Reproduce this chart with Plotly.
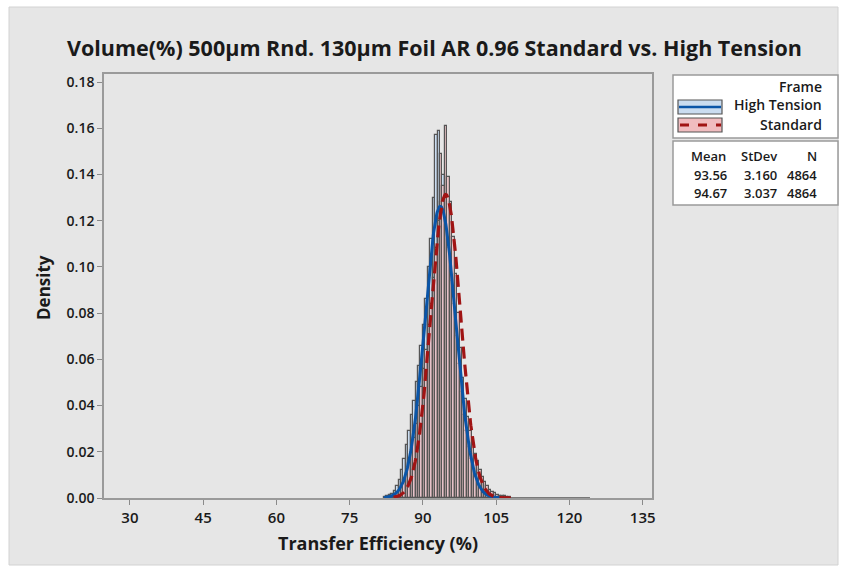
import numpy as np
import plotly.graph_objects as go

# ---------------- data ----------------
TITLE = "Volume(%) 500μm Rnd. 130μm Foil AR 0.96 Standard vs. High Tension"
GROUPS = ["High Tension", "Standard"]
MEANS = [93.56, 94.67]
STDEVS = [3.160, 3.037]
NS = [4864, 4864]

BIN_START = 82.0
BIN_WIDTH = 0.5
DATA_MAX = 124.2          # largest observation (lone outlier)
FIT_RANGE_HT = [82.0, 106.0]
FIT_RANGE_ST = [84.0, 108.0]

dens_high_tension = [
    0.0004, 0.0008, 0.0012, 0.0018, 0.003, 0.005, 0.008, 0.012,
    0.017, 0.023, 0.029, 0.036, 0.042, 0.050, 0.057, 0.066,
    0.075, 0.086, 0.100, 0.112, 0.130, 0.157, 0.159, 0.128,
    0.140, 0.118, 0.108, 0.094, 0.084, 0.070, 0.058, 0.046,
    0.036, 0.029, 0.022, 0.017, 0.012, 0.009, 0.007, 0.005,
    0.0035, 0.0025, 0.0018, 0.0012, 0.0008, 0.0006, 0.0004, 0.0004,
]
dens_standard = [
    0.0, 0.0004, 0.0004, 0.0008, 0.0012, 0.002, 0.003, 0.005,
    0.008, 0.011, 0.015, 0.020, 0.026, 0.032, 0.040, 0.048,
    0.056, 0.064, 0.075, 0.084, 0.095, 0.108, 0.120, 0.149,
    0.135, 0.161, 0.139, 0.128, 0.113, 0.097, 0.080, 0.065,
    0.052, 0.043, 0.035, 0.029, 0.024, 0.019, 0.016, 0.012,
    0.009, 0.007, 0.005, 0.0035, 0.0025, 0.002, 0.0015, 0.001,
    0.001, 0.0008, 0.0006, 0.0004,
]

X_TICKS = [30, 45, 60, 75, 90, 105, 120, 135]
Y_TICKS = [0.00, 0.02, 0.04, 0.06, 0.08, 0.10, 0.12, 0.14, 0.16, 0.18]

# ---------------- styling ----------------
W, H = 847, 573
PL, PR, PT, PB = 104, 652, 74, 498   # plot area in pixels
FONT = "Open Sans"
TXT = "#1a1a1a"
BLUE_FILL = "#cadcf0"
PINK_FILL = "rgba(238,186,190,0.75)"
OUTLINE = "#555555"
BLUE_LINE = "#0a55a8"
RED_LINE = "#a01414"
FRAME = "#9a9a9a"


def px(x):
    return (x - PL) / (PR - PL)


def py(y):
    return (PB - y) / (PB - PT)


def centers(n):
    return [BIN_START + BIN_WIDTH * (i + 0.5) for i in range(n)]


def normal_pdf(x, m, s):
    return np.exp(-0.5 * ((x - m) / s) ** 2) / (s * np.sqrt(2 * np.pi))


fig = go.Figure()

# empty-bin baseline (Minitab draws zero-height bins as a line)
fig.add_trace(go.Scatter(x=[BIN_START, DATA_MAX], y=[0, 0], mode="lines",
                         line=dict(color=OUTLINE, width=1.5),
                         showlegend=False, hoverinfo="skip"))

fig.add_trace(go.Bar(x=centers(len(dens_high_tension)), y=dens_high_tension,
                     width=BIN_WIDTH, name=GROUPS[0],
                     marker=dict(color=BLUE_FILL, line=dict(color=OUTLINE, width=1.2)),
                     showlegend=False))
fig.add_trace(go.Bar(x=centers(len(dens_standard)), y=dens_standard,
                     width=BIN_WIDTH, name=GROUPS[1],
                     marker=dict(color=PINK_FILL, line=dict(color=OUTLINE, width=1.2)),
                     showlegend=False))

xs_ht = np.linspace(FIT_RANGE_HT[0], FIT_RANGE_HT[1], 300)
xs_st = np.linspace(FIT_RANGE_ST[0], FIT_RANGE_ST[1], 300)
fig.add_trace(go.Scatter(x=xs_ht, y=normal_pdf(xs_ht, MEANS[0], STDEVS[0]), mode="lines",
                         line=dict(color=BLUE_LINE, width=3), showlegend=False))
fig.add_trace(go.Scatter(x=xs_st, y=normal_pdf(xs_st, MEANS[1], STDEVS[1]), mode="lines",
                         line=dict(color=RED_LINE, width=3.2, dash="12px,6px"),
                         showlegend=False))

shapes = []
annotations = []

# outer grey panel
shapes.append(dict(type="rect", xref="paper", yref="paper", layer="below",
                   x0=px(9), x1=px(838), y0=py(565), y1=py(7),
                   fillcolor="#e6e6e6", line=dict(color="#d2d2d2", width=1)))

# legend box 1
shapes.append(dict(type="rect", xref="paper", yref="paper",
                   x0=px(673), x1=px(838), y0=py(138), y1=py(75),
                   fillcolor="white", line=dict(color=FRAME, width=1.5)))
# legend box 2
shapes.append(dict(type="rect", xref="paper", yref="paper",
                   x0=px(673), x1=px(838), y0=py(205), y1=py(141),
                   fillcolor="white", line=dict(color=FRAME, width=1.5)))
# swatches
shapes.append(dict(type="rect", xref="paper", yref="paper",
                   x0=px(678), x1=px(722), y0=py(114), y1=py(100),
                   fillcolor=BLUE_FILL, line=dict(color=OUTLINE, width=1.2)))
shapes.append(dict(type="line", xref="paper", yref="paper",
                   x0=px(679), x1=px(721), y0=py(107), y1=py(107),
                   line=dict(color=BLUE_LINE, width=2.5)))
shapes.append(dict(type="rect", xref="paper", yref="paper",
                   x0=px(678), x1=px(722), y0=py(132), y1=py(118),
                   fillcolor="#f0bcbf", line=dict(color=OUTLINE, width=1.2)))
shapes.append(dict(type="line", xref="paper", yref="paper",
                   x0=px(680), x1=px(721), y0=py(125), y1=py(125),
                   line=dict(color=RED_LINE, width=3, dash="dash")))


def ann(text, x, y, xanchor="right", size=14, weight=600):
    annotations.append(dict(text=text, x=px(x), y=py(y), xref="paper", yref="paper",
                            xanchor=xanchor, yanchor="middle", showarrow=False,
                            font=dict(family=FONT, size=size, color=TXT, weight=weight)))


ann("Frame", 824, 86)
ann(GROUPS[0], 824, 105)
ann(GROUPS[1], 824, 124)

ann("Mean", 728, 156, size=13)
ann("StDev", 779, 156, size=13)
ann("N", 819, 156, size=13)
for i in range(2):
    yy = 174.5 + i * 18.5
    ann(f"{MEANS[i]:.2f}", 729, yy, size=13)
    ann(f"{STDEVS[i]:.3f}", 779, yy, size=13)
    ann(f"{NS[i]}", 819, yy, size=13)

# title and axis titles
annotations.append(dict(text=TITLE, x=px(434), y=py(47), xref="paper", yref="paper",
                        xanchor="center", yanchor="middle", showarrow=False,
                        font=dict(family=FONT, size=21.5, color=TXT, weight="bold")))
annotations.append(dict(text="Transfer Efficiency (%)", x=px(378), y=py(543),
                        xref="paper", yref="paper", xanchor="center", yanchor="middle",
                        showarrow=False,
                        font=dict(family=FONT, size=18, color=TXT, weight="bold")))
annotations.append(dict(text="Density", x=px(43), y=py(288), xref="paper", yref="paper",
                        xanchor="center", yanchor="middle", showarrow=False, textangle=-90,
                        font=dict(family=FONT, size=17, color=TXT, weight="bold")))

fig.update_layout(
    width=W, height=H,
    margin=dict(l=PL, r=W - PR, t=PT, b=H - PB, pad=0),
    paper_bgcolor="white", plot_bgcolor="white",
    barmode="overlay", bargap=0,
    shapes=shapes, annotations=annotations,
    showlegend=False,
)
fig.update_xaxes(range=[24.7, 136.9], tickvals=X_TICKS, ticks="outside", ticklen=5,
                 tickcolor="#8a8a8a", showgrid=False, zeroline=False, showline=True,
                 linecolor=FRAME, linewidth=1.5, mirror=True,
                 tickfont=dict(family=FONT, size=15, color=TXT, weight=600))
fig.update_yaxes(range=[0, 0.1835], tickvals=Y_TICKS, tickformat=".2f", ticks="outside",
                 ticklen=5, tickcolor="#8a8a8a", showgrid=False, zeroline=False,
                 showline=True, linecolor=FRAME, linewidth=1.5, mirror=True,
                 tickfont=dict(family=FONT, size=14, color=TXT, weight=600))

fig.write_html("out.html")
